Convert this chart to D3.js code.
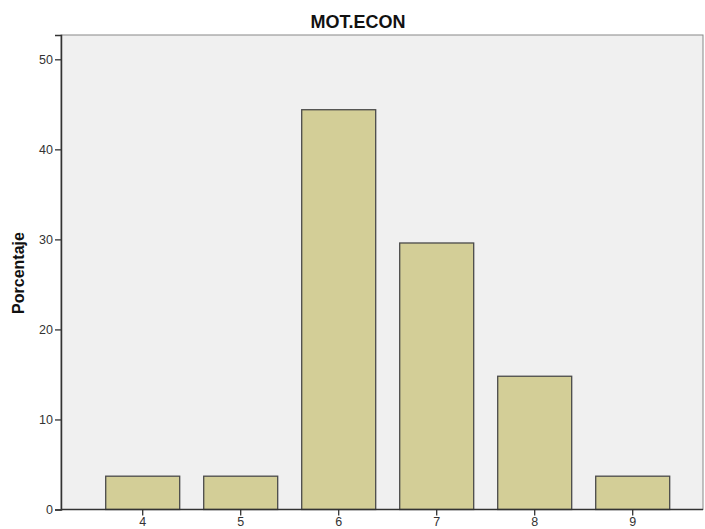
<!DOCTYPE html>
<html><head><meta charset="utf-8">
<script src="https://cdn.jsdelivr.net/npm/d3@7"></script>
<style>body{margin:0;background:#fff;} svg{display:block;}</style>
</head><body>
<svg id="c" width="705" height="529"></svg>
<script>
const categories = ["4","5","6","7","8","9"];
const values = [3.7, 3.7, 44.4, 29.6, 14.8, 3.7];
const yTicks = [0,10,20,30,40,50];
const title = "MOT.ECON";
const yLabel = "Porcentaje";

const svg = d3.select("#c");
const L = 61, R = 703, T = 35, B = 509.5;
const y = d3.scaleLinear().domain([0, 52.7]).range([B, T]);
const x = d3.scaleBand().domain(categories).range([93.7, 681.7]).paddingInner(0.245).paddingOuter(0.1225);

svg.append("rect").attr("x", L).attr("y", T).attr("width", R - L).attr("height", B - T)
  .attr("fill", "#f0f0f0").attr("stroke", "#888").attr("stroke-width", 1);

svg.selectAll("rect.bar").data(values).enter().append("rect").attr("class","bar")
  .attr("x", (d,i) => x(categories[i]))
  .attr("y", d => y(d))
  .attr("width", x.bandwidth())
  .attr("height", d => B - y(d))
  .attr("fill", "#d3ce97").attr("stroke", "#4a4a4a").attr("stroke-width", 1.3);

const font = "Liberation Sans, Arial, sans-serif";
const ya = svg.append("g").attr("transform", `translate(${L},0)`)
  .call(d3.axisLeft(y).tickValues(yTicks).tickSize(6).tickPadding(2).tickFormat(d3.format("d")));
ya.select(".domain").attr("stroke", "#333").attr("stroke-width", 1.5);
ya.selectAll(".tick line").attr("stroke", "#333").attr("stroke-width", 1.3);
ya.selectAll("text").attr("font-family", font).attr("font-size", 12.5).attr("fill", "#333");

const xa = svg.append("g").attr("transform", `translate(0,${B})`)
  .call(d3.axisBottom(x).tickSize(6).tickPadding(2));
xa.select(".domain").attr("d", `M${L},0H${R}`).attr("stroke", "#333").attr("stroke-width", 1.5);
xa.selectAll(".tick line").attr("stroke", "#333").attr("stroke-width", 1.3);
xa.selectAll("text").attr("font-family", font).attr("font-size", 12.5).attr("fill", "#333");

svg.append("text").attr("x", 358).attr("y", 27.5).attr("text-anchor", "middle")
  .attr("font-family", font).attr("font-weight", "bold").attr("font-size", 18)
  .attr("fill", "#111").text(title);

svg.append("text").attr("transform", "translate(24,273) rotate(-90)").attr("text-anchor", "middle")
  .attr("font-family", font).attr("font-weight", "bold").attr("font-size", 16)
  .attr("fill", "#111").text(yLabel);
</script>
</body></html>
